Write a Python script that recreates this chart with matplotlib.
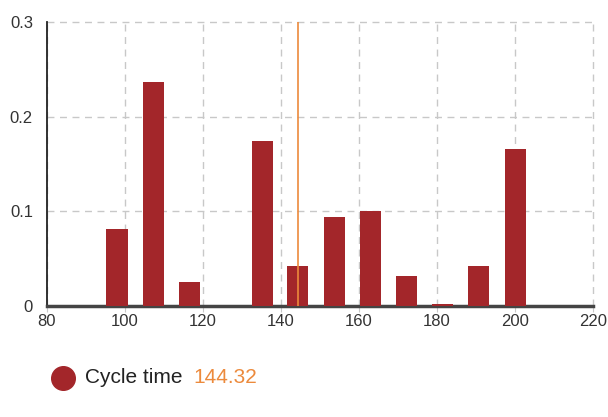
import numpy as np
import matplotlib.pyplot as plt

plt.rcParams['font.family'] = ['Liberation Sans', 'DejaVu Sans']

# histogram bins (centres) and relative frequencies
bin_centers = [98.0, 107.3, 116.6, 125.9, 135.2, 144.4, 153.7, 163.0, 172.3, 181.5, 190.8, 200.1]
freqs = [0.081, 0.237, 0.025, 0.0, 0.174, 0.042, 0.094, 0.100, 0.032, 0.002, 0.042, 0.166]
cycle_time = 144.32
xticks = [80, 100, 120, 140, 160, 180, 200, 220]
yticks = [0, 0.1, 0.2, 0.3]

bar_color = '#a3262a'
line_color = '#ec8a3c'

fig = plt.figure(figsize=(6.08, 4.17), dpi=100)
ax = fig.add_axes([0.077, 0.266, 0.898, 0.681])

ax.bar(bin_centers, freqs, width=5.4, color=bar_color, zorder=3)
ax.axvline(cycle_time, color=line_color, lw=1.2, zorder=4)

ax.set_xlim(80, 220)
ax.set_ylim(0, 0.3)
ax.set_xticks(xticks)
ax.set_yticks(yticks)
ax.set_xticklabels([str(t) for t in xticks])
ax.set_yticklabels(['0', '0.1', '0.2', '0.3'])
ax.grid(True, ls=(0, (5, 4)), color='#c8c8c8', lw=1)
ax.set_axisbelow(True)
for gl in ax.get_xgridlines() + ax.get_ygridlines():
    gl.set_clip_on(False)

for s in ['top', 'right']:
    ax.spines[s].set_visible(False)
ax.spines['left'].set_color('#222222')
ax.spines['left'].set_linewidth(1.3)
ax.spines['bottom'].set_color('#444444')
ax.spines['bottom'].set_linewidth(2.5)
ax.tick_params(axis='both', length=4, color='#c8c8c8', labelsize=12, labelcolor='#333333')
ax.tick_params(axis='x', pad=2)
ax.tick_params(axis='y', length=0, pad=10)

# legend below the chart
fig.add_artist(plt.Line2D([0.103], [0.094], marker='o', ms=17, color=bar_color,
                          transform=fig.transFigure))
fig.text(0.14, 0.094, 'Cycle time', fontsize=15, color='#222222', va='center')
fig.text(0.318, 0.094, f'{cycle_time:.2f}', fontsize=15, color=line_color, va='center')

fig.savefig('out.png', dpi=100)
